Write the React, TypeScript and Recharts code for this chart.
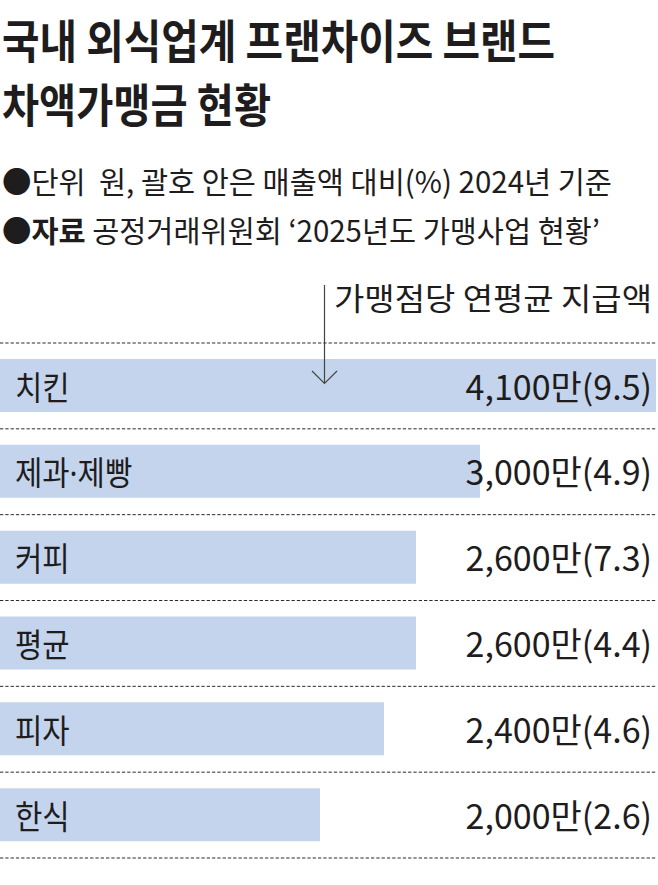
import { Bar, BarChart, CartesianGrid, LabelList, XAxis, YAxis } from "recharts"

// 가맹점당 연평균 차액가맹금 (만원), 괄호 = 매출액 대비 %
const categories = ["치킨", "제과·제빵", "커피", "평균", "피자", "한식"]
const amounts = [4100, 3000, 2600, 2600, 2400, 2000]
const ratios = [9.5, 4.9, 7.3, 4.4, 4.6, 2.6]

const titleLines = ["국내 외식업계 프랜차이즈 브랜드", "차액가맹금 현황"]
const unitNote = "●단위\u00a0 원, 괄호 안은 매출액 대비(%) 2024년 기준"
const sourceLabel = "●자료"
const sourceText = "\u00a0공정거래위원회 ‘2025년도 가맹사업 현황’"
const headerLabel = "가맹점당 연평균 지급액"

const W = 658
const H = 885
const FONT = "'Noto Sans CJK KR', 'Noto Sans', sans-serif"
// latin first so the middle dot stays narrow, hangul falls back to the CJK face
const LABEL_FONT = "'Noto Sans', 'Noto Sans CJK KR', sans-serif"
const INK = "#1e1c1d"

const data = categories.map((name, i) => ({
  name,
  amount: amounts[i],
  ratio: ratios[i],
}))

function CategoryLabel(props: any) {
  const { x, y, height, value } = props
  const tx = Number(x) + 15
  const ty = Number(y) + Number(height) / 2 + 14
  return (
    <text
      transform={`translate(${tx},${ty}) scale(0.9,1)`}
      fontSize={33}
      fill={INK}
      fontFamily={LABEL_FONT}
    >
      {value}
    </text>
  )
}

function ValueLabel(props: any) {
  const { y, height, index } = props
  const ty = Number(y) + Number(height) / 2 + 14
  const text = `${amounts[index].toLocaleString("en-US")}만(${ratios[index].toFixed(1)})`
  return (
    <text
      x={W - 6}
      y={ty}
      textAnchor="end"
      fontSize={34}
      fill={INK}
      fontFamily={FONT}
    >
      {text}
    </text>
  )
}

export default function App() {
  return (
    <div
      style={{
        position: "absolute",
        left: 0,
        top: 0,
        width: W,
        height: H,
        background: "#fff",
      }}
    >
      <BarChart
        width={W}
        height={H}
        data={data}
        layout="vertical"
        margin={{ top: 343, right: 2, bottom: 27, left: 0 }}
      >
        <CartesianGrid
          vertical={false}
          stroke="#2a2a2a"
          strokeDasharray="3.3 2"
          horizontalCoordinatesGenerator={({ offset }: any) =>
            Array.from(
              { length: categories.length + 1 },
              (_, i) => offset.top + (i * offset.height) / categories.length
            )
          }
        />
        <XAxis type="number" domain={[0, 4100]} hide />
        <YAxis type="category" dataKey="name" hide />
        <Bar dataKey="amount" fill="#c3d4ec" barSize={53} isAnimationActive={false}>
          <LabelList dataKey="name" content={CategoryLabel} />
          <LabelList dataKey="amount" content={ValueLabel} />
        </Bar>
      </BarChart>

      <svg
        width={W}
        height={H}
        style={{ position: "absolute", left: 0, top: 0, pointerEvents: "none" }}
        fontFamily={FONT}
      >
        <text x={2} y={58} fontSize={46} fontWeight={700} fill={INK} textLength={553} lengthAdjust="spacingAndGlyphs">
          {titleLines[0]}
        </text>
        <text x={2} y={122} fontSize={46} fontWeight={700} fill={INK} textLength={269} lengthAdjust="spacingAndGlyphs">
          {titleLines[1]}
        </text>
        <text x={2} y={193} fontSize={30} fill={INK} textLength={610} lengthAdjust="spacingAndGlyphs">
          {unitNote}
        </text>
        <text x={2} y={242} fontSize={30} fill={INK} textLength={598} lengthAdjust="spacingAndGlyphs">
          <tspan fontWeight={700}>{sourceLabel}</tspan>
          <tspan>{sourceText}</tspan>
        </text>

        <text
          x={W - 6}
          y={310}
          fontSize={31}
          fill={INK}
          textAnchor="end"
          textLength={318}
          lengthAdjust="spacingAndGlyphs"
        >
          {headerLabel}
        </text>
        <line x1={324.5} y1={285} x2={324.5} y2={383} stroke="#444" strokeWidth={1.2} />
        <polyline
          points="312,371 324.5,383.5 337,371"
          fill="none"
          stroke="#444"
          strokeWidth={1.2}
        />
      </svg>
    </div>
  )
}
